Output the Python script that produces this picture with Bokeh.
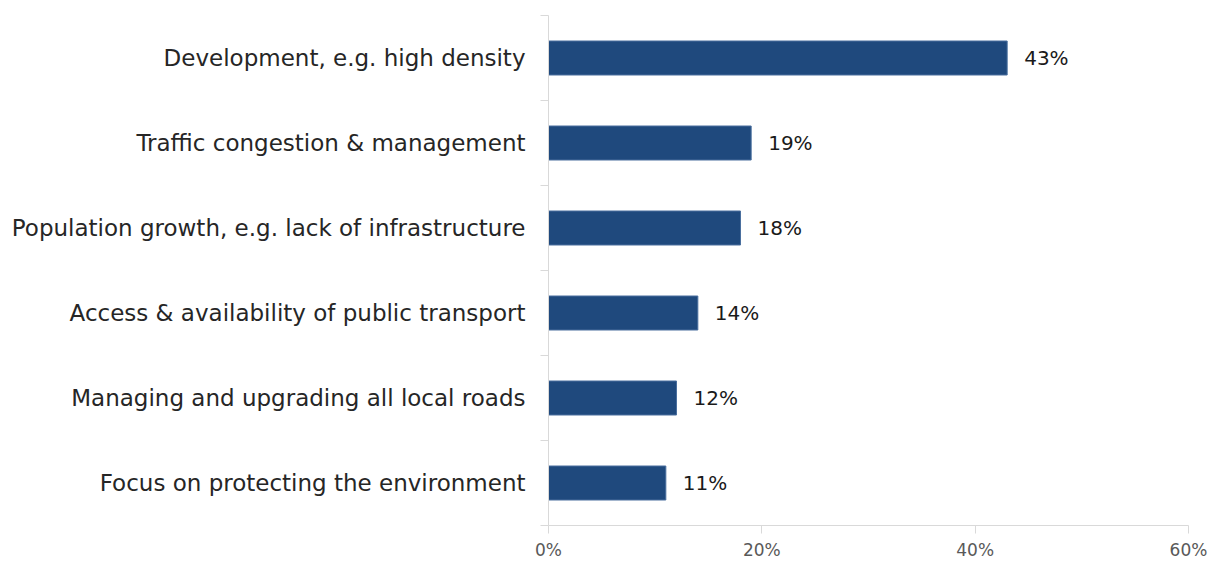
import numpy as np
from bokeh.plotting import figure
from bokeh.models import Range1d, FixedTicker, PrintfTickFormatter, ColumnDataSource
from bokeh.core.properties import value
from bokeh.embed import file_html
from bokeh.resources import INLINE

categories = [
    "Development, e.g. high density",
    "Traffic congestion & management",
    "Population growth, e.g. lack of infrastructure",
    "Access & availability of public transport",
    "Managing and upgrading all local roads",
    "Focus on protecting the environment",
]
values = [43, 19, 18, 14, 12, 11]
x_ticks = [0, 20, 40, 60]

FONT = "DejaVu Sans"
n = len(categories)
ypos = [n - i - 0.5 for i in range(n)]
labels = [f"{v}%" for v in values]

src = ColumnDataSource(dict(y=ypos, v=values, lab=labels, cat=categories))

p = figure(width=1210, height=562, output_backend="svg", toolbar_location=None,
           x_range=Range1d(0, 60), y_range=Range1d(0, n),
           min_border_left=548, min_border_right=22, min_border_top=15, min_border_bottom=35)
p.outline_line_color = None
p.xgrid.grid_line_color = None
p.ygrid.grid_line_color = None
p.background_fill_color = "white"

p.hbar(y="y", right="v", left=0, height=0.4, source=src,
       fill_color="#1F497D", line_color="#4a6f9e", line_width=1)

p.text(x="v", y="y", text="lab", source=src, x_offset=17,
       text_align="left", text_baseline="middle",
       text_font=value(FONT), text_font_size="20px", text_color="#1a1a1a")

# x axis
p.xaxis.ticker = FixedTicker(ticks=x_ticks, minor_ticks=[])
p.xaxis.formatter = PrintfTickFormatter(format="%d%%")
p.xaxis.axis_line_color = "#d9d9d9"
p.xaxis.major_tick_line_color = "#d9d9d9"
p.xaxis.major_tick_out = 8
p.xaxis.major_tick_in = 0
p.xaxis.minor_tick_line_color = None
p.xaxis.major_label_text_font = FONT
p.xaxis.major_label_text_font_size = "17px"
p.xaxis.major_label_text_color = "#595959"
p.xaxis.major_label_standoff = 6

# y axis: labels at centers, ticks at boundaries
p.yaxis.ticker = FixedTicker(ticks=ypos, minor_ticks=list(range(n + 1)))
p.yaxis.major_label_overrides = {y: c for y, c in zip(ypos, categories)}
p.yaxis.axis_line_color = "#d9d9d9"
p.yaxis.major_tick_line_color = None
p.yaxis.major_tick_out = 0
p.yaxis.major_tick_in = 0
p.yaxis.minor_tick_line_color = "#d9d9d9"
p.yaxis.minor_tick_out = 8
p.yaxis.minor_tick_in = 0
p.yaxis.major_label_text_font = FONT
p.yaxis.major_label_text_font_size = "23px"
p.yaxis.major_label_text_color = "#262626"
p.yaxis.major_label_standoff = 15

open("out.html", "w").write(file_html(p, INLINE))
